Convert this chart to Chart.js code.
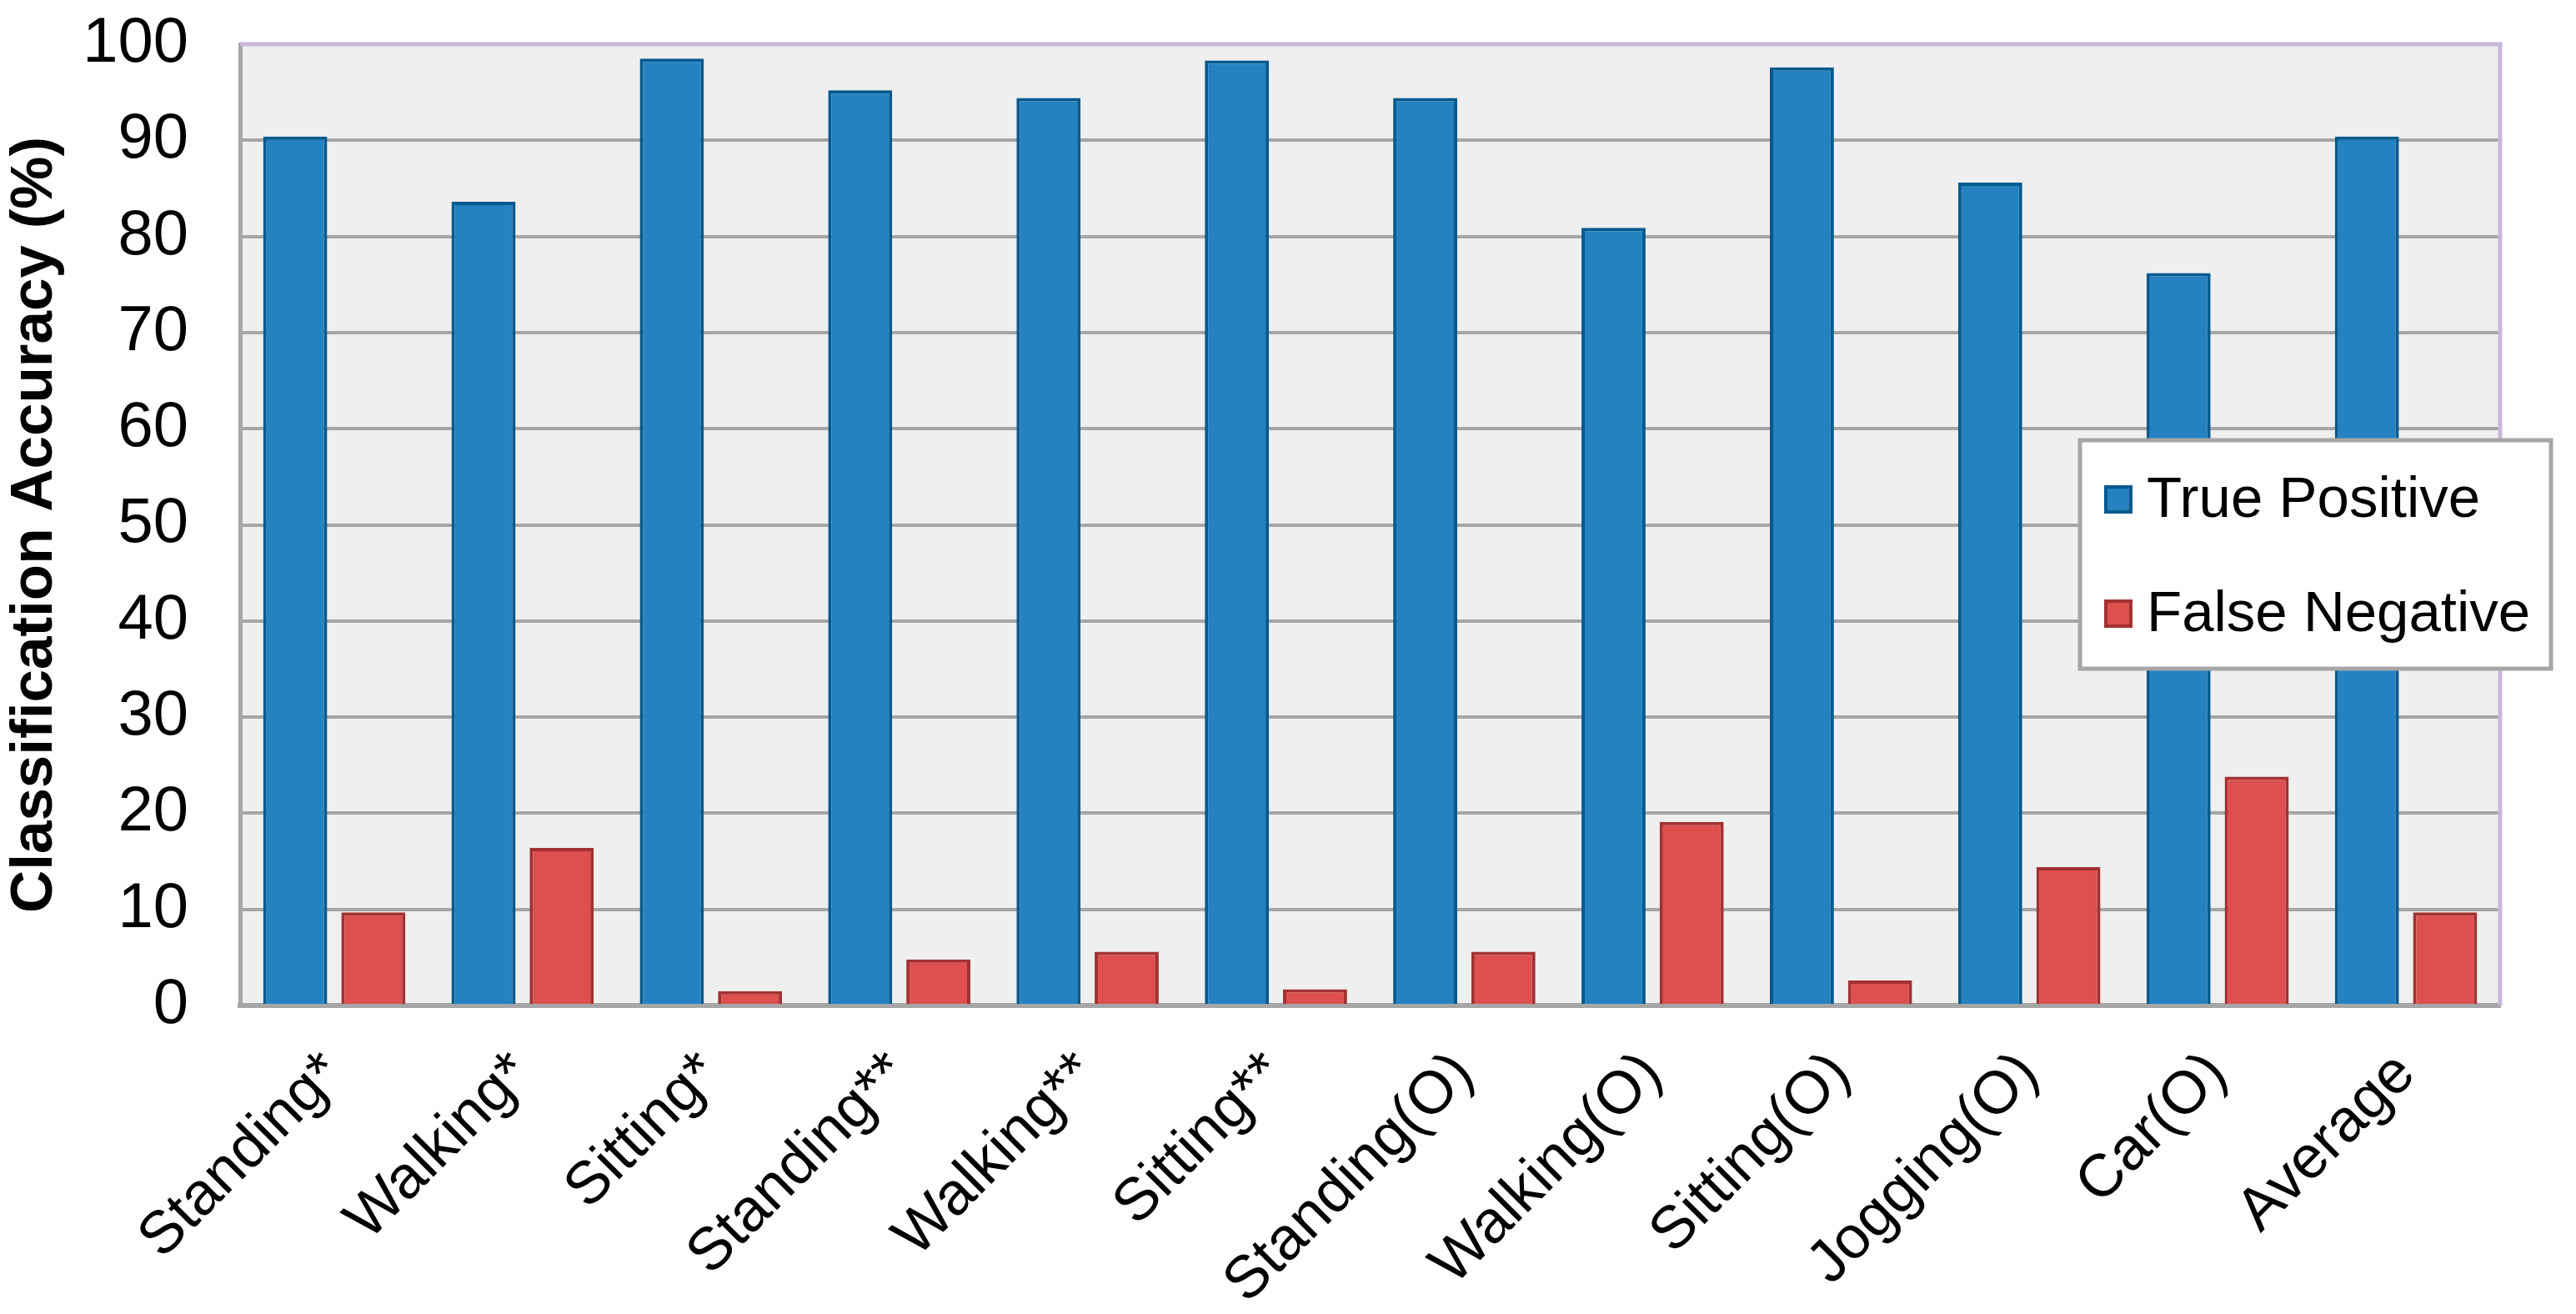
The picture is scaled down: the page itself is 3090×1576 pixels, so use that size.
<!DOCTYPE html>
<html>
<head>
<meta charset="utf-8">
<script src="https://cdn.jsdelivr.net/npm/chart.js@4"></script>
<style>
  html, body { margin: 0; padding: 0; background: #fff; }
  #wrap { width: 3090px; height: 1576px; position: relative; }
</style>
</head>
<body>
<div id="wrap"><canvas id="accuracyChart"></canvas></div>
<script>
// kategori aktivitas
const activities = ["Standing*", "Walking*", "Sitting*", "Standing**", "Walking**", "Sitting**",
  "Standing(O)", "Walking(O)", "Sitting(O)", "Jogging(O)", "Car(O)", "Average"];

// nilai (%)
const truePositive = [90.4, 83.6, 98.5, 95.2, 94.4, 98.3, 94.4, 80.9, 97.6, 85.6, 76.2, 90.4];
const falseNegative = [9.7, 16.4, 1.5, 4.8, 5.6, 1.7, 5.6, 19.1, 2.6, 14.4, 23.8, 9.7];

const yTicks = [0, 10, 20, 30, 40, 50, 60, 70, 80, 90, 100];

const FONT = "'Liberation Sans', Arial, sans-serif";

// latar plot area + garis tepi atas/kanan
const plotBackground = {
  id: "plotBackground",
  beforeDraw(chart) {
    const { ctx, chartArea: a } = chart;
    ctx.save();
    ctx.fillStyle = "#efefef";
    ctx.fillRect(a.left, a.top, a.right - a.left, a.bottom - a.top);
    ctx.restore();
  },
  afterDatasetsDraw(chart) {
    const { ctx, chartArea: a } = chart;
    ctx.save();
    ctx.strokeStyle = "#c8b8d8";
    ctx.lineWidth = 5;
    ctx.beginPath();
    ctx.moveTo(a.left, a.top);
    ctx.lineTo(a.right, a.top);
    ctx.lineTo(a.right, a.bottom);
    ctx.stroke();
    ctx.restore();
  }
};

// legenda di dalam area plot
const boxLegend = {
  id: "boxLegend",
  afterDraw(chart) {
    const { ctx, chartArea: a } = chart;
    const x = a.right - 504, y = a.top + 475, w = 565, h = 274;
    ctx.save();
    ctx.fillStyle = "#fff";
    ctx.fillRect(x, y, w, h);
    ctx.strokeStyle = "#a6a6a6";
    ctx.lineWidth = 5;
    ctx.strokeRect(x, y, w, h);
    ctx.font = "69px " + FONT;
    ctx.textBaseline = "middle";
    chart.data.datasets.forEach((ds, i) => {
      const cy = y + 71 + i * 137;
      ctx.fillStyle = ds.backgroundColor;
      ctx.fillRect(x + 29, cy - 17, 34, 34);
      ctx.strokeStyle = ds.borderColor;
      ctx.lineWidth = 4;
      ctx.strokeRect(x + 31, cy - 15, 30, 30);
      ctx.fillStyle = "#000";
      ctx.fillText(ds.label, x + 80, cy + 2);
    });
    ctx.restore();
  }
};

const ctx = document.getElementById("accuracyChart").getContext("2d");
new Chart(ctx, {
  type: "bar",
  data: {
    labels: activities,
    datasets: [
      {
        label: "True Positive",
        data: truePositive,
        backgroundColor: "#2482c1",
        borderColor: "#045a8d",
        borderWidth: 4
      },
      {
        label: "False Negative",
        data: falseNegative,
        backgroundColor: "#de4f4f",
        borderColor: "#a33131",
        borderWidth: 4
      }
    ]
  },
  options: {
    responsive: true,
    maintainAspectRatio: false,
    animation: false,
    categoryPercentage: 0.83,
    barPercentage: 0.82,
    layout: { padding: { top: 53, right: 91, left: 0, bottom: 0 } },
    plugins: {
      legend: { display: false },
      tooltip: { enabled: false }
    },
    scales: {
      x: {
        grid: { display: false, drawTicks: false },
        border: { display: true, color: "#a6a6a6", width: 6 },
        ticks: {
          color: "#000",
          font: { family: FONT, size: 72 },
          minRotation: 45,
          maxRotation: 45,
          padding: 40
        },
        afterFit(scale) { scale.height = 370; }
      },
      y: {
        min: 0,
        max: 100,
        afterBuildTicks(scale) { scale.ticks = yTicks.map(v => ({ value: v })); },
        grid: {
          color: (c) => (c.tick && c.tick.value === 100 ? "#c8b8d8" : "#a6a6a6"),
          lineWidth: 4,
          drawTicks: false
        },
        border: { display: true, color: "#a6a6a6", width: 5 },
        ticks: {
          color: "#000",
          font: { family: FONT, size: 76 },
          padding: 62
        },
        title: {
          display: true,
          text: "Classification Accuracy (%)",
          color: "#000",
          font: { family: FONT, size: 71, weight: "bold" },
          padding: 0
        },
        afterFit(scale) {
          scale.width = 288;
          scale.paddingTop = 0;
          scale.paddingBottom = 0;
        }
      }
    }
  },
  plugins: [plotBackground, boxLegend]
});
</script>
</body>
</html>
